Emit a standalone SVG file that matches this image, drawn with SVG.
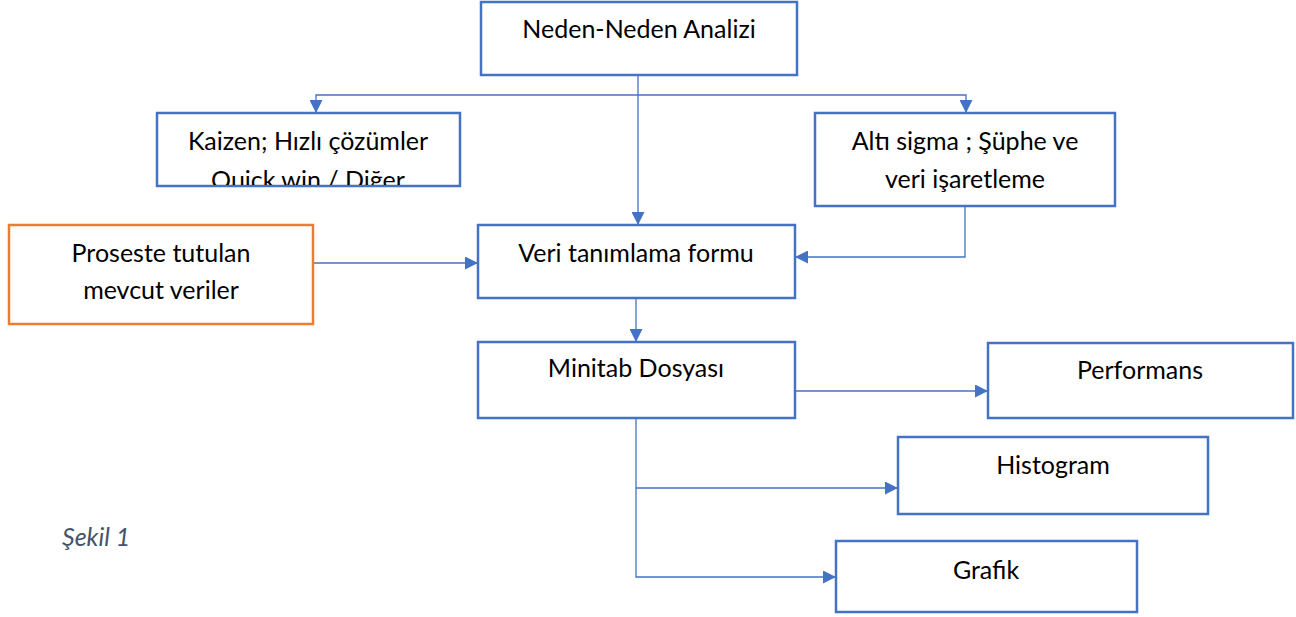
<svg xmlns="http://www.w3.org/2000/svg" width="1296" height="617" viewBox="0 0 1296 617">
<style>
.box{fill:#fff;stroke:#4472C4;stroke-width:2.5}
.obox{fill:#fff;stroke:#ED7D31;stroke-width:2.5}
.t{font-family:Lato,"Noto Sans","Liberation Sans",sans-serif;font-size:25px;fill:#000;text-anchor:middle}
.c{fill:none;stroke:#4472C4;stroke-width:1.3}
.cap{font-family:Lato,"Noto Sans","Liberation Sans",sans-serif;font-size:25px;font-style:italic;fill:#44546A}
</style>
<defs>
<marker id="a" viewBox="0 0 10 10" refX="10" refY="5" markerWidth="13" markerHeight="13" markerUnits="userSpaceOnUse" orient="auto">
<path d="M0,0 L10,5 L0,10 z" fill="#4472C4"/>
</marker>
<clipPath id="kclip"><rect x="158" y="114" width="301" height="71"/></clipPath>
</defs>
<g id="connectors">
<path class="c" d="M638,75 V225" marker-end="url(#a)"/>
<path class="c" d="M638,95 H316 V113" marker-end="url(#a)"/>
<path class="c" d="M638,95 H966 V113" marker-end="url(#a)"/>
<path class="c" d="M965,206 V257 H795" marker-end="url(#a)"/>
<path class="c" d="M313,263 H478" marker-end="url(#a)"/>
<path class="c" d="M636,298 V342" marker-end="url(#a)"/>
<path class="c" d="M795,391 H988" marker-end="url(#a)"/>
<path class="c" d="M636,418 V577 H836" marker-end="url(#a)"/>
<path class="c" d="M636,488 H898" marker-end="url(#a)"/>
</g>
<g id="neden"><rect class="box" x="481" y="2" width="316" height="73"/><text class="t" x="639" y="38">Neden-Neden Analizi</text></g>
<g id="kaizen"><rect class="box" x="157" y="113" width="303" height="73"/>
<g clip-path="url(#kclip)"><text class="t" x="308" y="150">Kaizen; Hızlı çözümler</text><text class="t" x="308" y="189">Quick win / Diğer</text></g></g>
<g id="altisigma"><rect class="box" x="815" y="113" width="300" height="93"/><text class="t" x="965" y="150">Altı sigma ; Şüphe ve</text><text class="t" x="965" y="188">veri işaretleme</text></g>
<g id="proseste"><rect class="obox" x="9" y="225" width="304" height="99"/><text class="t" x="161" y="262">Proseste tutulan</text><text class="t" x="161" y="299">mevcut veriler</text></g>
<g id="veri"><rect class="box" x="478" y="225" width="317" height="73"/><text class="t" x="636" y="262">Veri tanımlama formu</text></g>
<g id="minitab"><rect class="box" x="478" y="342" width="317" height="76"/><text class="t" x="636" y="377">Minitab Dosyası</text></g>
<g id="performans"><rect class="box" x="988" y="343" width="305" height="75"/><text class="t" x="1140" y="379">Performans</text></g>
<g id="histogram"><rect class="box" x="898" y="437" width="310" height="77"/><text class="t" x="1053" y="474">Histogram</text></g>
<g id="grafik"><rect class="box" x="836" y="541" width="301" height="71"/><text class="t" x="986" y="579">Grafik</text></g>
<text class="cap" x="62" y="546">Şekil 1</text>
</svg>
